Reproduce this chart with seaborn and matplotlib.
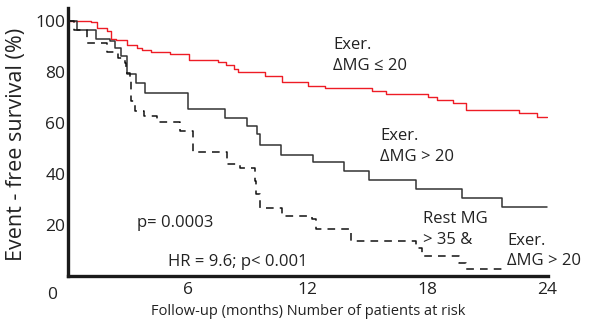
import matplotlib
matplotlib.use("Agg")
import matplotlib.pyplot as plt
import seaborn as sns
import pandas as pd

# --- data (months, % event-free) ---
t_low = [0, 1.15, 1.45, 1.95, 2.15, 2.4, 2.95, 3.45, 3.7, 4.15, 5.1, 6.05, 7.5, 7.9, 8.3, 8.5,
         9.85, 10.7, 12.0, 12.9, 15.25, 15.95, 18.05, 18.5, 19.3, 19.95, 22.6, 23.5, 24.0]
s_low = [100, 99.4, 97, 96, 93, 92.3, 90.6, 89.4, 88.7, 87.8, 86.8, 84.7, 83.8, 82.5, 81.2, 80.1,
         78.4, 76.2, 74.5, 73.5, 72.3, 71.5, 70.2, 68.9, 67.6, 65.1, 63.8, 62.1, 62.1]

t_high = [0, 0.45, 1.4, 2.1, 2.35, 2.65, 2.95, 3.4, 3.85, 6.0, 7.85, 8.98, 9.45, 9.6, 10.65,
          12.3, 13.85, 15.1, 17.45, 19.75, 21.75, 24.0]
s_high = [100, 96.4, 92.8, 92.2, 89.5, 86.3, 79.1, 75.5, 71.6, 65.4, 61.8, 58.6, 55.7, 51.4, 47.6,
          44.7, 41.0, 37.5, 34.0, 30.7, 27.2, 27.2]

t_rest = [0, 0.3, 0.95, 1.95, 2.5, 2.85, 2.9, 3.1, 3.15, 3.35, 3.8, 4.45, 5.6, 6.25, 7.95, 8.6,
          9.35, 9.4, 9.6, 10.7, 12.25, 12.45, 14.2, 17.45, 17.75, 19.6, 19.95, 21.75]
s_rest = [100, 96.4, 91.2, 87.6, 85.6, 83.6, 79.5, 76.5, 68.6, 64.8, 62.5, 60.5, 56.9, 48.5, 43.8, 42.2,
          37.3, 32.2, 26.8, 23.5, 22.2, 18.3, 13.7, 11.1, 7.9, 5.2, 2.6, 2.6]

x_ticks = [6, 12, 18, 24]
y_ticks = [20, 40, 60, 80, 100]

sns.set_theme(style="white")
plt.rcParams['font.family'] = ['Open Sans', 'DejaVu Sans']

fig = plt.figure(figsize=(5.91, 3.20), dpi=100)
ax = fig.add_axes([68/591, 44/320, 480/591, 268/320])

df_low = pd.DataFrame({"t": t_low, "s": s_low})
df_high = pd.DataFrame({"t": t_high, "s": s_high})
df_rest = pd.DataFrame({"t": t_rest, "s": s_rest})

sns.lineplot(data=df_low, x="t", y="s", ax=ax, estimator=None, sort=False,
             drawstyle="steps-post", color="#ee1c25", linewidth=1.0)
sns.lineplot(data=df_high, x="t", y="s", ax=ax, estimator=None, sort=False,
             drawstyle="steps-post", color="#333333", linewidth=1.1)
sns.lineplot(data=df_rest, x="t", y="s", ax=ax, estimator=None, sort=False,
             drawstyle="steps-post", color="#111111", linewidth=1.1)
ax.lines[-1].set_dashes((5, 4))

ax.set_xlim(0, 24.05)
ax.set_ylim(0, 105)
ax.set_xticks(x_ticks)
ax.set_yticks(y_ticks)
ax.set_xticklabels([str(v) for v in x_ticks])
ax.set_yticklabels([str(v) for v in y_ticks])
ax.tick_params(axis="both", direction="in", width=3, color="#1a1a1a",
               labelsize=12.5, labelcolor="#222222")
ax.tick_params(axis="x", length=7, pad=4)
ax.tick_params(axis="y", length=9, pad=2)

for side in ["top", "right"]:
    ax.spines[side].set_visible(False)
for side in ["left", "bottom"]:
    ax.spines[side].set_linewidth(2.4)
    ax.spines[side].set_color("#1a1a1a")

ax.set_xlabel("Follow-up (months) Number of patients at risk", fontsize=10.5, color="#222222")
ax.set_ylabel("Event - free survival (%)", fontsize=15.5, color="#222222")
ax.xaxis.set_label_coords(0.5, -0.105)
ax.yaxis.set_label_coords(-0.085, 0.49)

txt = dict(fontsize=12, color="#222222", linespacing=1.4)
ax.text(-0.55, -4.5, "0", ha="right", va="top", fontsize=12.5, color="#222222")
ax.text(13.3, 93.5, "Exer.\nΔMG ≤ 20", ha="left", va="top", **txt)
ax.text(15.65, 58, "Exer.\nΔMG > 20", ha="left", va="top", **txt)
ax.text(3.45, 24, "p= 0.0003", ha="left", va="top", **txt)
ax.text(5.0, 8.5, "HR = 9.6; p< 0.001", ha="left", va="top", **txt)
ax.text(17.8, 25.5, "Rest MG\n> 35 &", ha="left", va="top", **txt)
ax.text(22.0, 17, "Exer.\nΔMG > 20", ha="left", va="top", **txt)

fig.savefig("out.png", dpi=100)
